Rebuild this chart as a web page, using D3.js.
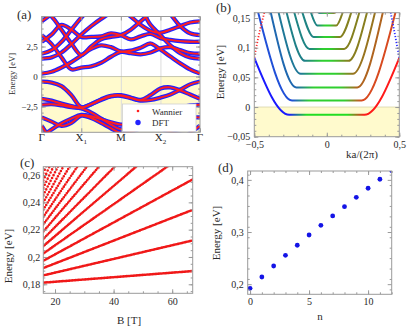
<!DOCTYPE html>
<html>
<head>
<meta charset="utf-8">
<title>bands</title>
<script src="https://cdn.jsdelivr.net/npm/d3@7"></script>
<style>
  body{margin:0;background:#fff;}
  #fig svg{display:block;}
</style>
</head>
<body>
<div id="fig"></div>
<script>

//////////////////// data ////////////////////
// (a) bands along G-X1-M-X2-G, energy [eV] at each kPath point
var kPath=[0,0.25,0.5,0.75,1,1.25,1.5,1.75,2,2.25,2.5,2.75,3,3.25,3.5,3.75,4];
var kTicks=[0,1,2,3,4];
var kNames=["Γ","X","M","X","Γ"];
var kSubs=["","1","","2",""];
var cb1=[0.25,0.4,0.75,1.2,1.75,2.3,2.6,2.45,2.1,2.15,2.4,2.75,2.25,1.67,1.1,0.6,0.25];
var cb2=[3.45,2.7,1.6,0.6,0.75,0.85,1.15,1.65,2.05,1.95,1.85,2.0,2.35,2.45,2.2,1.95,1.9];
var cb3=[2.9,3.5,4.3,3.9,3.3,3.3,3.35,3.6,3.45,3.1,3.35,3.55,3.2,3.05,2.95,2.9,2.9];
var cb4=[1.5,1.6,2.0,2.7,3.5,4.2,4.8,5.3,5.5,5.5,5.5,4.3,3.45,2.6,1.95,1.6,1.5];
var cb5=[4.6,5.2,5.8,6.2,6.2,6.2,6.2,6.0,5.6,5.0,4.3,3.8,3.65,3.9,4.2,4.5,4.6];
var cb6=[5.6,5.0,3.9,2.75,1.8,2.5,3.1,3.3,3.45,3.9,4.6,5.3,6.0,6.2,6.2,6.2,6.2];
var cb7=[1.9,2.2,2.9,3.9,4.9,5.8,6.3,6.3,6.3,6.3,6.3,6.3,6.0,5.2,4.2,3.6,3.45];
var vb1=[-0.42,-0.5,-0.8,-1.55,-2.55,-2.3,-1.9,-1.6,-1.55,-1.75,-1.95,-1.55,-1.0,-0.9,-1.15,-1.5,-1.85];
var vb2=[-1.85,-2.0,-2.25,-2.45,-2.6,-2.3,-1.95,-1.65,-1.6,-1.8,-2.0,-1.95,-1.75,-1.5,-1.1,-0.65,-0.42];
var vb3=[-2.35,-2.3,-2.4,-2.55,-2.65,-3.0,-3.5,-4.0,-4.4,-4.3,-4.0,-3.6,-3.2,-2.9,-2.6,-2.4,-2.35];
var vb4=[-3.4,-3.75,-4.1,-3.85,-3.25,-3.45,-3.85,-4.3,-4.7,-4.6,-4.3,-4.0,-3.8,-3.6,-3.45,-3.4,-3.4];
var vb5=[-5.0,-4.4,-3.9,-3.5,-3.2,-3.3,-3.55,-3.8,-4.0,-3.9,-3.7,-3.9,-4.3,-4.6,-4.8,-4.95,-5.0];
var vb6=[-4.1,-5.2,-5.6,-5.6,-5.6,-5.6,-5.6,-5.6,-5.6,-5.6,-5.6,-5.6,-5.6,-5.6,-5.3,-4.7,-4.1];
var bandsA=[cb1,cb2,cb3,cb4,cb5,cb6,cb7,vb1,vb2,vb3,vb4,vb5,vb6];
var eTicksA=[-2.5,0,2.5];
var legendNames=["Wannier","DFT"];

// (b) levels vs ka/(2pi): level energy, flat half width, where the branch leaves the box
var levelE=[-0.013,0.011,0.033,0.056,0.078,0.098,0.118,0.1375,0.1584];
var levelKnee=[0.26,0.24,0.21,0.18,0.15,0.12,0.09,0.065,0.05];
var levelExitK=[0.5,0.474,0.387,0.333,0.278,0.225,0.169,0.11,0.09];
var levelExitE=[0.083,0.16,0.16,0.16,0.16,0.16,0.16,0.16,0.17];
var levelLeftCol=["#1a1aff","#2050d8","#1f68b0","#1f7898","#1f8088","#1f8484","#1f8484","#1f8484","#1f8484"];
var levelRightCol=["#ff1a1a","#d84a20","#b0641f","#98741f","#887e1f","#84801f","#84801f","#84801f","#84801f"];
var levelMidCol=["#22dd22","#2fcf2f","#2fcf2f","#2fcf2f","#2fcf2f","#2fcf2f","#2fcf2f","#2fcf2f","#2fcf2f"];
var edgeRedK=[-0.5,-0.468,-0.43], edgeRedE=[0.083,0.122,0.16];
var edgeBlueK=[0.5,0.47,0.44], edgeBlueE=[0.083,0.122,0.16];
var kTicksB=[-0.5,0,0.5];
var eTicksB=[-0.05,0,0.05,0.1,0.15];

// (c) fan lines: energy at B=16 T and at B=67 T
var fanB=[16,67];
var fanEstart=[0.1812,0.1865,0.1919,0.1972,0.2025,0.2079,0.2132,0.2186,0.2239,0.2293,0.2346,0.2399,0.2453,0.2506,0.2560,0.2613];
var fanEend=[0.1897,0.2121,0.2345,0.2568,0.2792,0.3016,0.3240,0.3464,0.3687,0.3911,0.4135,0.4359,0.4583,0.4806,0.5030,0.5254];
var bTicksC=[20,40,60];
var eTicksC=[0.18,0.2,0.22,0.24,0.26];

// (d) level energy vs n
var nLevel=[0,1,2,3,4,5,6,7,8,9,10,11,12];
var nEnergy=[0.1921,0.2138,0.2349,0.2554,0.2746,0.2943,0.3129,0.3308,0.3486,0.3666,0.3839,0.4012,0.418];
var nTicksD=[0,5,10];
var eTicksD=[0.2,0.3,0.4];

//////////////////// common ////////////////////
var frameCol="#9a9a9a";
var textCol="#2a2a2a";
var yellow="#fffacd";
var svg=d3.select("#fig").append("svg").attr("width",415).attr("height",333)
  .style("font-family",'"Liberation Serif","DejaVu Serif",serif');

function fmtComma(d){
  return d3.format("~g")(d).replace(".",",");
}
function axisOf(side,s){
  if(side=="b") return d3.axisBottom(s);
  if(side=="t") return d3.axisTop(s);
  if(side=="l") return d3.axisLeft(s);
  return d3.axisRight(s);
}
//frame with inward ticks on all sides
function frameTicks(g,x,y,o){
  var x0=x.range()[0],x1=x.range()[1],yb=y.range()[0],yt=y.range()[1];
  var sides=[
    ["b",x,"translate(0,"+yb+")",o.xMaj,o.xMin,o.xLab,o.padX],
    ["t",x,"translate(0,"+yt+")",o.xMaj,o.xMin,false,0],
    ["l",y,"translate("+x0+",0)",o.yMaj,o.yMin,o.yLab,o.padY],
    ["r",y,"translate("+x1+",0)",o.yMaj,o.yMin,false,0]
  ];
  sides.forEach(function(s){
    if(s[4]){
      var mi=g.append("g").attr("transform",s[2])
        .call(axisOf(s[0],s[1]).tickValues(s[4]).tickSize(-2).tickSizeOuter(0).tickFormat(""));
      mi.select(".domain").remove();
      mi.selectAll("line").attr("stroke",frameCol);
    }
    if(s[3]){
      var ma=g.append("g").attr("transform",s[2])
        .call(axisOf(s[0],s[1]).tickValues(s[3]).tickSize(-4).tickSizeOuter(0)
        .tickPadding(s[6]).tickFormat(s[5]?fmtComma:""));
      ma.select(".domain").remove();
      ma.attr("font-family",null).attr("font-size",o.fs);
      ma.selectAll("line").attr("stroke",frameCol);
      ma.selectAll("text").attr("fill",textCol);
    }
  });
  g.append("rect").attr("x",x0).attr("y",yt).attr("width",x1-x0).attr("height",yb-yt)
    .attr("fill","none").attr("stroke",frameCol).attr("stroke-width",1);
}
function inDom(s,v){
  var d=s.domain();
  return v.filter(function(t){return t>=Math.min(d[0],d[1])-1e-9&&t<=Math.max(d[0],d[1])+1e-9;});
}
function clipRect(id,x,y){
  svg.append("clipPath").attr("id",id).append("rect")
    .attr("x",x.range()[0]).attr("y",y.range()[1])
    .attr("width",x.range()[1]-x.range()[0]).attr("height",y.range()[0]-y.range()[1]);
}
function vLabel(txt,x,y,fs){
  svg.append("text").attr("transform","translate("+x+","+y+") rotate(-90)")
    .attr("text-anchor","middle").attr("font-size",fs).attr("fill",textCol).text(txt);
}
function hLabel(txt,x,y,fs){
  svg.append("text").attr("x",x).attr("y",y).attr("text-anchor","middle")
    .attr("font-size",fs).attr("fill",textCol).text(txt);
}

//////////////////// (a) ////////////////////
var xa=d3.scaleLinear().domain([0,4]).range([41.7,200]);
var ya=d3.scaleLinear().domain([-4.64,5.0]).range([132.3,16.5]);
clipRect("clipA",xa,ya);
var ga=svg.append("g");
ga.append("rect").attr("x",xa(0)).attr("y",ya(0)).attr("width",xa(4)-xa(0))
  .attr("height",ya(-4.64)-ya(0)).attr("fill",yellow);
var grid=ga.append("g").attr("transform","translate(0,"+ya.range()[0]+")")
  .call(d3.axisBottom(xa).tickValues([1,2,3]).tickSize(-(ya.range()[0]-ya.range()[1])).tickFormat(""));
grid.select(".domain").remove();
grid.selectAll("line").attr("stroke","#dcdcdc");
ga.append("line").attr("x1",xa(0)).attr("x2",xa(4)).attr("y1",ya(0)).attr("y2",ya(0))
  .attr("stroke","#b8b8a0").attr("stroke-width",0.8);

var lineA=d3.line()
  .x(function(d,i){return xa(kPath[i]);})
  .y(function(d){return ya(d);})
  .curve(d3.curveCatmullRom.alpha(0.5));
var pa=ga.append("g").attr("clip-path","url(#clipA)");
pa.selectAll("path.dft").data(bandsA).enter().append("path").attr("class","dft")
  .attr("d",lineA).attr("fill","none").attr("stroke","#2222ff").attr("stroke-width",4.3);
pa.selectAll("path.wan").data(bandsA).enter().append("path").attr("class","wan")
  .attr("d",lineA).attr("fill","none").attr("stroke","#ff1f1f").attr("stroke-width",1.9);

frameTicks(ga,xa,ya,{yMaj:eTicksA,yMin:inDom(ya,d3.range(-4.5,5.01,0.5)),yLab:true,
  xMaj:kTicks,xMin:null,xLab:false,padX:3,padY:4,fs:9});

//legend
var lg=ga.append("g");
lg.append("rect").attr("x",122.5).attr("y",104).attr("width",73.5).attr("height",27.5)
  .attr("fill","#fff").attr("stroke","#d0d0d0").attr("stroke-width",0.8);
lg.append("circle").attr("cx",138).attr("cy",111).attr("r",1.3).attr("fill","#ff1f1f");
lg.append("circle").attr("cx",138).attr("cy",122.5).attr("r",2.7).attr("fill","#2222ff");
lg.selectAll("text").data(legendNames).enter().append("text")
  .attr("x",152).attr("y",function(d,i){return 114.5+i*11.5;})
  .attr("font-size",9).attr("fill",textCol).text(function(d){return d;});

//k labels (with subscript)
ga.selectAll("text.kname").data(kNames).enter().append("text").attr("class","kname")
  .attr("x",function(d,i){return xa(kTicks[i]);}).attr("y",141)
  .attr("text-anchor","middle").attr("font-size",11).attr("fill",textCol)
  .each(function(d,i){
    var t=d3.select(this);
    t.append("tspan").text(d);
    if(kSubs[i]!=""){
      t.append("tspan").attr("font-size",7).attr("dy",2.5).text(kSubs[i]);
    }
  });
vLabel("Energy [eV]",15,74,8.5);
svg.append("text").attr("x",17).attr("y",19).attr("font-size",13).attr("fill",textCol).text("(a)");

//////////////////// (b) ////////////////////
var xb=d3.scaleLinear().domain([-0.5,0.5]).range([254.3,399.3]);
var yb=d3.scaleLinear().domain([-0.05,0.159]).range([136.7,12.7]);
clipRect("clipB",xb,yb);
var gb=svg.append("g");
gb.append("rect").attr("x",xb(-0.5)).attr("y",yb(0)).attr("width",xb(0.5)-xb(-0.5))
  .attr("height",yb(-0.05)-yb(0)).attr("fill",yellow);
gb.append("line").attr("x1",xb(-0.5)).attr("x2",xb(0.5)).attr("y1",yb(0)).attr("y2",yb(0))
  .attr("stroke","#d8d4a8").attr("stroke-width",0.8);

var defs=svg.append("defs");
levelE.forEach(function(e,i){
  var kn=levelKnee[i], w=Math.min(0.12,kn*0.8);
  var gr=defs.append("linearGradient").attr("id","lv"+i).attr("gradientUnits","userSpaceOnUse")
    .attr("x1",xb(-0.5)).attr("x2",xb(0.5)).attr("y1",0).attr("y2",0);
  var st=[[0,levelLeftCol[i]],[0.5-kn,levelLeftCol[i]],[0.5-kn+w,levelMidCol[i]],
          [0.5+kn-w,levelMidCol[i]],[0.5+kn,levelRightCol[i]],[1,levelRightCol[i]]];
  st.forEach(function(s){gr.append("stop").attr("offset",s[0]).attr("stop-color",s[1]);});
});
var lineB=d3.line().x(function(d){return xb(d[0]);}).y(function(d){return yb(d[1]);})
  .curve(d3.curveMonotoneX);
var pb=gb.append("g").attr("clip-path","url(#clipB)");
pb.selectAll("path.lv").data(levelE).enter().append("path").attr("class","lv")
  .attr("d",function(e,i){
    return lineB([[-levelExitK[i],levelExitE[i]],[-levelKnee[i],e],[levelKnee[i],e],[levelExitK[i],levelExitE[i]]]);
  })
  .attr("fill","none").attr("stroke",function(e,i){return "url(#lv"+i+")";}).attr("stroke-width",2);
var lineE=d3.line().x(function(d){return xb(d[0]);}).y(function(d){return yb(d[1]);}).curve(d3.curveMonotoneY);
pb.append("path").attr("d",lineE(edgeRedK.map(function(k,i){return [k,edgeRedE[i]];})))
  .attr("fill","none").attr("stroke","#ff2a2a").attr("stroke-width",1.8)
  .attr("stroke-dasharray","1.2,1.8");
pb.append("path").attr("d",lineE(edgeBlueK.map(function(k,i){return [k,edgeBlueE[i]];})))
  .attr("fill","none").attr("stroke","#2a2aff").attr("stroke-width",1.8)
  .attr("stroke-dasharray","1.2,1.8");

frameTicks(gb,xb,yb,{yMaj:eTicksB,yMin:inDom(yb,d3.range(-0.05,0.16,0.01)),yLab:true,
  xMaj:kTicksB,xMin:inDom(xb,d3.range(-0.5,0.51,0.1)),xLab:true,padX:4,padY:4,fs:10});
vLabel("Energy [eV]",224,72,11);
hLabel("ka/(2π)",362,158,11);
svg.append("text").attr("x",216).attr("y",12).attr("font-size",13).attr("fill",textCol).text("(b)");

//////////////////// (c) ////////////////////
var xc=d3.scaleLinear().domain([16,67]).range([43.3,192.7]);
var yc=d3.scaleLinear().domain([0.1734,0.2661]).range([293.3,166.7]);
clipRect("clipC",xc,yc);
var gc=svg.append("g");
var pc=gc.append("g").attr("clip-path","url(#clipC)");
pc.selectAll("line.fan").data(fanEstart).enter().append("line").attr("class","fan")
  .attr("x1",xc(fanB[0])).attr("y1",function(d){return yc(d);})
  .attr("x2",xc(fanB[1])).attr("y2",function(d,i){return yc(fanEend[i]);})
  .attr("stroke","#f01818").attr("stroke-width",2.6).attr("stroke-linecap","round")
  .attr("stroke-dasharray",function(d,i){
    //one dot every 0.5 T
    var dx=xc(fanB[1])-xc(fanB[0]), dy=yc(fanEend[i])-yc(d);
    var n=(fanB[1]-fanB[0])/0.5;
    return "0,"+(Math.sqrt(dx*dx+dy*dy)/n);
  });
frameTicks(gc,xc,yc,{yMaj:eTicksC,yMin:inDom(yc,d3.range(0.175,0.266,0.005)),yLab:true,
  xMaj:bTicksC,xMin:inDom(xc,d3.range(20,67,5)),xLab:true,padX:5,padY:3,fs:10});
vLabel("Energy [eV]",12,256,11);
hLabel("B [T]",129,324,11);
svg.append("text").attr("x",20).attr("y",167).attr("font-size",13).attr("fill",textCol).text("(c)");

//////////////////// (d) ////////////////////
var xd=d3.scaleLinear().domain([-0.2,12]).range([247.7,391.7]);
var yd=d3.scaleLinear().domain([0.1806,0.417]).range([294.3,171]);
clipRect("clipD",xd,yd);
var gd=svg.append("g");
gd.append("g").attr("clip-path","url(#clipD)")
  .selectAll("circle").data(nLevel).enter().append("circle")
  .attr("cx",function(d){return xd(d);}).attr("cy",function(d,i){return yd(nEnergy[i]);})
  .attr("r",2.4).attr("fill","#1414e6");
frameTicks(gd,xd,yd,{yMaj:eTicksD,yMin:inDom(yd,d3.range(0.19,0.417,0.02)),yLab:true,
  xMaj:nTicksD,xMin:inDom(xd,d3.range(0,12.1,1)),xLab:true,padX:4,padY:4,fs:10});
vLabel("Energy [eV]",220,233,11);
hLabel("n",320,320,11);
svg.append("text").attr("x",218).attr("y",172).attr("font-size",13).attr("fill",textCol).text("(d)");

</script>
</body>
</html>
